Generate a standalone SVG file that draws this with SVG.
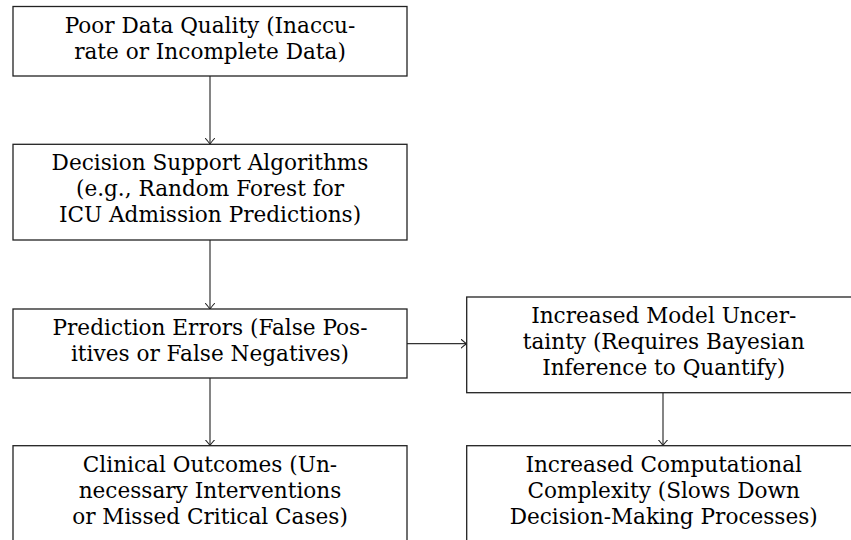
<svg xmlns="http://www.w3.org/2000/svg" width="851" height="540" viewBox="0 0 851 540">
  <style>
    .box { fill: #ffffff; stroke: #222222; stroke-width: 1.3; }
    .lbl { font-family: "DejaVu Serif", "Liberation Serif", serif; font-size: 21.6px; fill: #000000; text-anchor: middle; }
    .edge { fill: none; stroke: #333333; stroke-width: 1.2; }
  </style>
  <defs>
    <marker id="arr" viewBox="-6 -5 7 10" markerWidth="7" markerHeight="10" refX="0" refY="0" orient="auto" markerUnits="userSpaceOnUse">
      <path d="M-5.5,-4.5 Q-1.5,-1 0,0 Q-1.5,1 -5.5,4.5" fill="none" stroke="#222222" stroke-width="1.1" stroke-linecap="round"/>
    </marker>
  </defs>
  <rect width="851" height="540" fill="#ffffff"/>

  <g id="connectors">
    <line class="edge" x1="210" y1="76" x2="210" y2="144" marker-end="url(#arr)"/>
    <line class="edge" x1="210" y1="240" x2="210" y2="309" marker-end="url(#arr)"/>
    <line class="edge" x1="407" y1="343.7" x2="466.5" y2="343.7" marker-end="url(#arr)"/>
    <line class="edge" x1="210" y1="378" x2="210" y2="445.5" marker-end="url(#arr)"/>
    <line class="edge" x1="663" y1="392.7" x2="663" y2="445.5" marker-end="url(#arr)"/>
  </g>

  <g id="poor-data-quality">
    <rect class="box" x="13" y="6.5" width="394" height="69.5"/>
    <text class="lbl" x="210" y="32.5">Poor Data Quality (Inaccu-</text>
    <text class="lbl" x="210" y="58.5">rate or Incomplete Data)</text>
  </g>

  <g id="decision-support">
    <rect class="box" x="13" y="144.3" width="394" height="95.7"/>
    <text class="lbl" x="210" y="169.5">Decision Support Algorithms</text>
    <text class="lbl" x="210" y="195.5">(e.g., Random Forest for</text>
    <text class="lbl" x="210" y="221.5">ICU Admission Predictions)</text>
  </g>

  <g id="prediction-errors">
    <rect class="box" x="13" y="309" width="394" height="69"/>
    <text class="lbl" x="210" y="335">Prediction Errors (False Pos-</text>
    <text class="lbl" x="210" y="361">itives or False Negatives)</text>
  </g>

  <g id="model-uncertainty">
    <rect class="box" x="466.7" y="297" width="394" height="95.7"/>
    <text class="lbl" x="663.7" y="322.5">Increased Model Uncer-</text>
    <text class="lbl" x="663.7" y="348.5">tainty (Requires Bayesian</text>
    <text class="lbl" x="663.7" y="374.5">Inference to Quantify)</text>
  </g>

  <g id="clinical-outcomes">
    <rect class="box" x="13" y="445.7" width="394" height="96"/>
    <text class="lbl" x="210" y="471.5">Clinical Outcomes (Un-</text>
    <text class="lbl" x="210" y="497.5">necessary Interventions</text>
    <text class="lbl" x="210" y="523.5">or Missed Critical Cases)</text>
  </g>

  <g id="computational-complexity">
    <rect class="box" x="466.7" y="445.7" width="394" height="96"/>
    <text class="lbl" x="663.7" y="471.5">Increased Computational</text>
    <text class="lbl" x="663.7" y="497.5">Complexity (Slows Down</text>
    <text class="lbl" x="663.7" y="523.5">Decision-Making Processes)</text>
  </g>
</svg>
